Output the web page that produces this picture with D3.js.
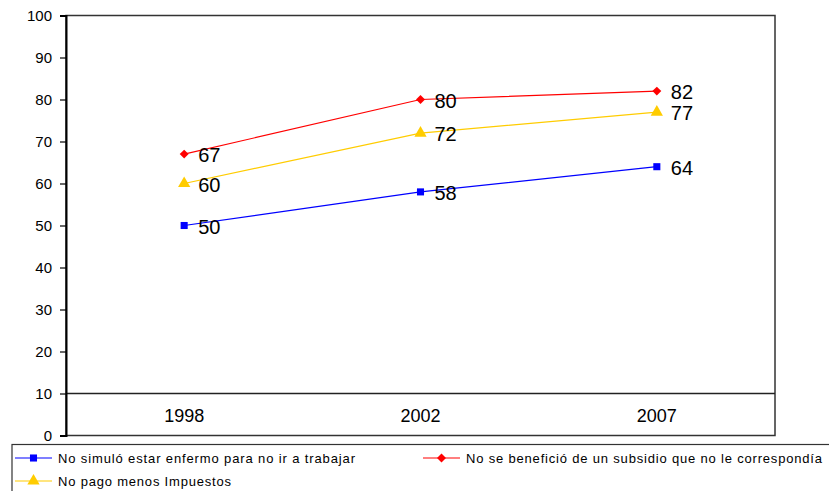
<!DOCTYPE html>
<html><head><meta charset="utf-8">
<script src="https://cdn.jsdelivr.net/npm/d3@7"></script>
<style>body{margin:0;background:#fff}svg{display:block}text{font-family:"Liberation Sans",Arial,sans-serif}</style>
</head><body><svg id="c" width="829" height="491"></svg>
<script>
const categories = ["1998","2002","2007"];
const serieA = [50,58,64]; // No simuló estar enfermo
const serieB = [67,80,82]; // No se benefició de un subsidio
const serieC = [60,72,77]; // No pago menos Impuestos
const yTicks = [0,10,20,30,40,50,60,70,80,90,100];
const names = ["No simuló estar enfermo para no ir a trabajar","No se benefició de un subsidio que no le correspondía","No pago menos Impuestos"];

const series = [
  {name:names[0], values:serieA, color:"#0000ff", shape:d3.symbolSquare, size:50, rot:0},
  {name:names[1], values:serieB, color:"#ff0000", shape:d3.symbolSquare, size:40, rot:45},
  {name:names[2], values:serieC, color:"#ffcc00", shape:d3.symbolTriangle, size:65, rot:0}
];
const legendW = [297, 356, 173];

const svg = d3.select("#c");
const L=66, R=775, T=15.5, B=435.5;
const x = d3.scaleBand().domain(categories).range([L,R]);
const y = d3.scaleLinear().domain([0,100]).range([B,T]);

svg.append("rect").attr("x",L).attr("y",T).attr("width",R-L).attr("height",B-T)
  .attr("fill","none").attr("stroke","#333").attr("stroke-width",1.5);
svg.append("line").attr("x1",L).attr("x2",R).attr("y1",y(10)).attr("y2",y(10))
  .attr("stroke","#222").attr("stroke-width",1.5);

const ya = svg.append("g").attr("transform",`translate(${L},0)`)
  .call(d3.axisLeft(y).tickValues(yTicks).tickSize(6).tickPadding(8));
ya.select(".domain").attr("stroke","#000").attr("stroke-width",2);
ya.selectAll(".tick line").attr("stroke","#000").attr("stroke-width",1.2);
ya.selectAll(".tick text").attr("font-size",15).attr("fill","#000").attr("font-family","Liberation Sans, Arial, sans-serif");

svg.append("g").selectAll("text").data(categories).join("text")
  .attr("x",d=>x(d)+x.bandwidth()/2).attr("y",(y(10)+B)/2+7)
  .attr("text-anchor","middle").attr("font-size",18).attr("fill","#000").text(d=>d);

const line = d3.line().x((d,i)=>x(categories[i])+x.bandwidth()/2).y(d=>y(d));
series.forEach(s=>{
  svg.append("path").datum(s.values).attr("d",line).attr("fill","none")
    .attr("stroke",s.color).attr("stroke-width",1.2);
  svg.append("g").selectAll("path").data(s.values).join("path")
    .attr("d",d3.symbol().type(s.shape).size(s.size))
    .attr("transform",(d,i)=>`translate(${x(categories[i])+x.bandwidth()/2},${y(d)}) rotate(${s.rot})`)
    .attr("fill",s.color);
  svg.append("g").selectAll("text").data(s.values).join("text")
    .attr("x",(d,i)=>x(categories[i])+x.bandwidth()/2+14).attr("y",d=>y(d)+8)
    .attr("font-size",20).attr("fill","#000").text(d=>d);
});

svg.append("rect").attr("x",12).attr("y",444.5).attr("width",830).attr("height",60)
  .attr("fill","none").attr("stroke","#333").attr("stroke-width",1.2);
const lpos = [{x:15,y:458},{x:423,y:458},{x:15,y:481}];
series.forEach((s,i)=>{
  const p = lpos[i];
  const g = svg.append("g").attr("transform",`translate(${p.x},${p.y})`);
  g.append("line").attr("x1",0).attr("x2",37).attr("stroke",s.color).attr("stroke-width",1.2);
  g.append("path").attr("d",d3.symbol().type(s.shape).size(s.size)).attr("transform",`translate(18.5,0) rotate(${s.rot})`).attr("fill",s.color);
  g.append("text").attr("x",43).attr("y",4.5).attr("font-size",13).attr("fill","#000")
    .attr("textLength",legendW[i]).attr("lengthAdjust","spacing").text(s.name);
});
</script></body></html>
